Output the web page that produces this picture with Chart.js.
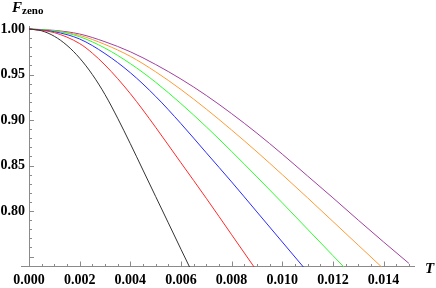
<!DOCTYPE html>
<html>
<head>
<meta charset="utf-8">
<script src="https://cdn.jsdelivr.net/npm/chart.js@4/dist/chart.umd.min.js"></script>
<style>
  html, body { margin: 0; padding: 0; background: #fff; }
  #chart { display: block; }
</style>
</head>
<body>
<canvas id="chart" width="436" height="288"></canvas>
<script>
// values (T, F_zeno)
const blackT = [0, 0.0005, 0.001, 0.0015, 0.002, 0.0025, 0.003, 0.0035, 0.004, 0.0045, 0.005, 0.0055, 0.006, 0.0064];
const blackF = [1.000, 0.998, 0.992, 0.982, 0.968, 0.950, 0.928, 0.902, 0.874, 0.845, 0.816, 0.787, 0.758, 0.735];

const redT = [0, 0.001, 0.002, 0.0025, 0.003, 0.0035, 0.004, 0.0045, 0.005, 0.006, 0.007, 0.008, 0.009];
const redF = [1.000, 0.996, 0.984, 0.9735, 0.9605, 0.9455, 0.929, 0.911, 0.892, 0.853, 0.814, 0.774, 0.734];

const blueT = [0, 0.001, 0.002, 0.003, 0.004, 0.005, 0.006, 0.007, 0.008, 0.009, 0.010, 0.011];
const blueF = [1.000, 0.997, 0.989, 0.973, 0.952, 0.926, 0.896, 0.864, 0.832, 0.799, 0.766, 0.733];

const greenT = [0, 0.001, 0.002, 0.003, 0.004, 0.005, 0.006, 0.007, 0.008, 0.009, 0.010, 0.011, 0.012, 0.0125];
const greenF = [1.000, 0.998, 0.9915, 0.979, 0.962, 0.9415, 0.918, 0.8925, 0.8655, 0.8375, 0.809, 0.780, 0.751, 0.7365];

const orangeT = [0, 0.001, 0.002, 0.003, 0.004, 0.005, 0.006, 0.007, 0.008, 0.009, 0.010, 0.011, 0.012, 0.013, 0.014];
const orangeF = [1.000, 0.998, 0.993, 0.983, 0.970, 0.953, 0.9335, 0.912, 0.889, 0.865, 0.840, 0.8145, 0.7885, 0.7625, 0.7365];

const purpleT = [0, 0.001, 0.002, 0.003, 0.004, 0.005, 0.006, 0.007, 0.008, 0.009, 0.010, 0.011, 0.012, 0.013, 0.014, 0.015];
const purpleF = [1.000, 0.9985, 0.9945, 0.986, 0.975, 0.961, 0.945, 0.927, 0.907, 0.8855, 0.8625, 0.8385, 0.8145, 0.790, 0.766, 0.7425];

const xTicks = [0, 0.002, 0.004, 0.006, 0.008, 0.010, 0.012, 0.014];
const yTicks = [0.80, 0.85, 0.90, 0.95, 1.00];

const axisColor = '#8a8a8a';
const serif = "'Liberation Serif', 'DejaVu Serif', serif";

const toPoints = (ts, fs) => ts.map((t, i) => ({ x: t, y: fs[i] }));

const line = (data, color) => ({
	data: data,
	borderColor: color,
	borderWidth: 1,
	pointRadius: 0,
	fill: false,
	cubicInterpolationMode: 'monotone',
	clip: 0,
});

// mathematica style axes: ticks pointing inward, x axis sticking out a little on the left
const mmaAxes = {
	id: 'mmaAxes',
	beforeDatasetsDraw(chart) {
		const { ctx, chartArea, scales } = chart;
		const xs = scales.x;
		const ys = scales.y;
		const ax = Math.round(xs.getPixelForValue(0)) + 0.5;
		const ay = Math.round(chartArea.bottom) - 0.5;
		ctx.save();
		ctx.strokeStyle = axisColor;
		ctx.lineWidth = 1;
		ctx.beginPath();
		ctx.moveTo(ax - 8.5, ay);
		ctx.lineTo(chartArea.right, ay);
		ctx.moveTo(ax, ay);
		ctx.lineTo(ax, chartArea.top);
		for (let k = 0; k <= 30; k++) {
			const px = Math.round(xs.getPixelForValue(k * 0.0005)) + 0.5;
			if (px > chartArea.right) break;
			const len = k % 4 === 0 ? 5 : 2.5;
			ctx.moveTo(px, ay);
			ctx.lineTo(px, ay - len);
		}
		for (let k = 74; k <= 100; k++) {
			const py = Math.round(ys.getPixelForValue(k / 100)) + 0.5;
			const len = k % 5 === 0 ? 4.5 : 2.5;
			ctx.moveTo(ax, py);
			ctx.lineTo(ax + len, py);
		}
		ctx.stroke();
		ctx.restore();
	},
	afterDraw(chart) {
		const { ctx } = chart;
		ctx.save();
		ctx.fillStyle = '#000';
		ctx.textBaseline = 'alphabetic';
		ctx.textAlign = 'left';
		ctx.font = 'italic bold 15px ' + serif;
		ctx.fillText('F', 12, 12);
		ctx.font = 'bold 11px ' + serif;
		ctx.fillText('zeno', 22, 14);
		ctx.font = 'italic bold 15px ' + serif;
		ctx.fillText('T', 425, 273);
		ctx.restore();
	},
};

const canvas = document.querySelector('#chart');
const zenoChart = new Chart(canvas, {
	type: 'line',
	data: {
		datasets: [
			line(toPoints(blackT, blackF), '#333333'),
			line(toPoints(redT, redF), '#ff2a2a'),
			line(toPoints(blueT, blueF), '#2a2aff'),
			line(toPoints(greenT, greenF), '#2aff2a'),
			line(toPoints(orangeT, orangeF), '#ff9a35'),
			line(toPoints(purpleT, purpleF), '#a040a0'),
		],
	},
	options: {
		responsive: false,
		animation: false,
		layout: { padding: { top: 26, right: 21, left: 0, bottom: 0 } },
		plugins: { legend: { display: false }, tooltip: { enabled: false } },
		scales: {
			x: {
				type: 'linear',
				min: 0,
				max: 0.01524,
				afterBuildTicks: (s) => { s.ticks = xTicks.map((v) => ({ value: v })); },
				afterFit: (s) => { s.height = 21; },
				grid: { display: false, drawTicks: false },
				border: { display: false },
				ticks: {
					autoSkip: false,
					maxRotation: 0,
					padding: 5,
					color: '#000',
					font: { family: serif, weight: 'bold', size: 14 },
					callback: (v) => v.toFixed(3),
				},
			},
			y: {
				type: 'linear',
				min: 0.7385,
				max: 1.0033,
				afterBuildTicks: (s) => { s.ticks = yTicks.map((v) => ({ value: v })); },
				afterFit: (s) => { s.width = 29; },
				grid: { display: false, drawTicks: false },
				border: { display: false },
				ticks: {
					padding: 4,
					color: '#000',
					font: { family: serif, weight: 'bold', size: 14 },
					callback: (v) => v.toFixed(2),
				},
			},
		},
	},
	plugins: [mmaAxes],
});
</script>
</body>
</html>
